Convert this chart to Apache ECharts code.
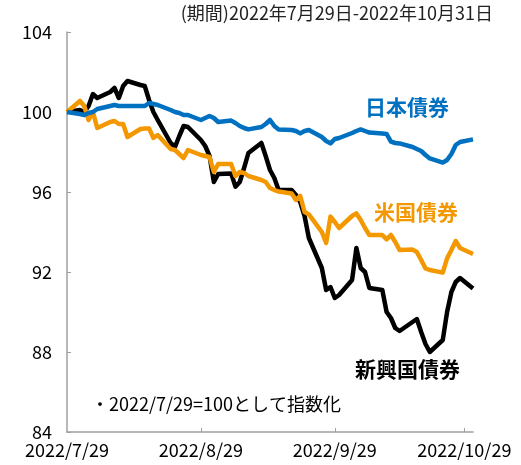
<!DOCTYPE html>
<html><head><meta charset="utf-8">
<script src="https://cdn.jsdelivr.net/npm/echarts@6/dist/echarts.min.js"></script>
<style>html,body{margin:0;padding:0;background:#fff}#c{width:521px;height:465px}</style>
</head><body><div id="c"></div>
<script>
const FONT = '"Noto Sans CJK JP", "Noto Sans", sans-serif';
const calendarStart = [2022, 7, 29];
const calendarEnd = [2022, 10, 31];
const tickLabels = ['2022/7/29', '2022/8/29', '2022/9/29', '2022/10/29'];
const yTicks = { min: 84, max: 104, interval: 4 };

const tradeDates = [
  '2022/7/29',
  '2022/8/1','2022/8/2','2022/8/3','2022/8/4','2022/8/5',
  '2022/8/8','2022/8/9','2022/8/10','2022/8/11','2022/8/12',
  '2022/8/15','2022/8/16','2022/8/17','2022/8/18','2022/8/19',
  '2022/8/22','2022/8/23','2022/8/24','2022/8/25','2022/8/26',
  '2022/8/29','2022/8/30','2022/8/31','2022/9/1','2022/9/2',
  '2022/9/5','2022/9/6','2022/9/7','2022/9/8','2022/9/9',
  '2022/9/12','2022/9/13','2022/9/14','2022/9/15','2022/9/16',
  '2022/9/19','2022/9/20','2022/9/21','2022/9/22','2022/9/23',
  '2022/9/26','2022/9/27','2022/9/28','2022/9/29','2022/9/30',
  '2022/10/3','2022/10/4','2022/10/5','2022/10/6','2022/10/7',
  '2022/10/10','2022/10/11','2022/10/12','2022/10/13','2022/10/14',
  '2022/10/17','2022/10/18','2022/10/19','2022/10/20','2022/10/21',
  '2022/10/24','2022/10/25','2022/10/26','2022/10/27','2022/10/28',
  '2022/10/31'
];

const japanBonds = [
  100.0,
  99.9, 99.85, 99.95, 100.0, 100.15,
  100.3, 100.35, 100.3, 100.3, 100.3,
  100.3, 100.3, 100.45, 100.4, 100.35,
  100.1, 100.0, 99.95, 99.85, 99.85,
  99.6, 99.7, 99.8, 99.7, 99.5,
  99.57, 99.45, 99.3, 99.2, 99.13,
  99.25, 99.4, 99.6, 99.3, 99.13,
  99.1, 99.05, 98.93, 99.05, 99.1,
  98.75, 98.55, 98.43, 98.65, 98.7,
  98.95, 99.05, 99.13, 99.05, 98.97,
  98.93, 98.9, 98.52, 98.45, 98.43,
  98.25, 98.15, 98.05, 97.85, 97.68,
  97.47, 97.6, 97.9, 98.35, 98.5,
  98.63
];

const usBonds = [
  100.0,
  100.55, 100.3, 99.6, 100.0, 99.2,
  99.5, 99.55, 99.4, 99.4, 98.75,
  99.15, 99.18, 99.18, 98.7, 98.85,
  98.15, 98.1, 97.9, 97.7, 98.1,
  97.85, 97.8, 97.75, 97.0, 97.4,
  97.4, 96.8, 97.0, 96.95, 96.8,
  96.6, 96.5, 96.2, 96.1, 96.02,
  95.93, 95.6, 95.8, 95.0, 94.88,
  94.0, 93.45, 94.77, 94.5, 94.2,
  94.8, 94.93, 94.6, 94.2, 93.85,
  93.85, 93.63, 93.85, 93.5, 93.1,
  93.12, 93.0, 92.6, 92.18, 92.1,
  91.97, 92.68, 93.1, 93.55, 93.2,
  92.9
];

const emBonds = [
  100.0,
  100.1, 100.0, 100.3, 100.9, 100.7,
  101.0, 101.2, 100.7, 101.3, 101.55,
  101.35, 101.3, 100.6, 100.0, 99.6,
  98.45, 98.25, 98.8, 99.3, 99.25,
  98.6, 98.3, 97.8, 96.5, 96.9,
  96.93, 96.27, 96.5, 97.2, 97.95,
  98.45, 97.8, 97.1, 96.7, 96.1,
  96.1, 95.85, 95.5, 94.8, 93.7,
  92.2, 91.1, 91.25, 90.7, 90.85,
  91.6, 93.2, 92.2, 92.0, 91.2,
  91.1, 90.0, 89.7, 89.2, 89.05,
  89.5, 89.65, 89.0, 88.4, 88.0,
  88.6, 90.0, 91.0, 91.5, 91.7,
  91.18
];

const seriesNames = ['新興国債券', '米国債券', '日本債券'];
const seriesColors = ['#000000', '#F39800', '#0070C0'];
const titleText = '(期間)2022年7月29日-2022年10月31日';
const noteText = '・2022/7/29=100として指数化';

// build calendar category list
const calendar = [];
{
  let d = Date.UTC(calendarStart[0], calendarStart[1] - 1, calendarStart[2]);
  const e = Date.UTC(calendarEnd[0], calendarEnd[1] - 1, calendarEnd[2]);
  while (d <= e) {
    const dt = new Date(d);
    calendar.push(dt.getUTCFullYear() + '/' + (dt.getUTCMonth() + 1) + '/' + dt.getUTCDate());
    d += 86400000;
  }
}
function toCalendar(vals) {
  const map = {};
  tradeDates.forEach((t, i) => { map[t] = vals[i]; });
  return calendar.map(c => (c in map ? map[c] : null));
}
const allSeries = [emBonds, usBonds, japanBonds];

const chart = echarts.init(document.getElementById('c'), null, { renderer: 'canvas' });
chart.setOption({
  animation: false,
  backgroundColor: '#ffffff',
  grid: { left: 67, right: 48, top: 32, bottom: 33, containLabel: false },
  xAxis: {
    type: 'category',
    data: calendar,
    boundaryGap: false,
    axisLine: { lineStyle: { color: '#a0a0a0', width: 1.5 } },
    axisTick: {
      inside: true, length: 4,
      interval: (i, v) => tickLabels.indexOf(v) > 0,
      lineStyle: { color: '#a0a0a0', width: 1 }
    },
    axisLabel: {
      interval: (i, v) => tickLabels.indexOf(v) >= 0,
      color: '#000', fontSize: 18, fontFamily: FONT, margin: 9
    },
    splitLine: { show: false }
  },
  yAxis: {
    type: 'value',
    min: yTicks.min, max: yTicks.max, interval: yTicks.interval,
    axisLine: { show: true, lineStyle: { color: '#a0a0a0', width: 1.5 } },
    axisTick: { show: true, inside: true, length: 4, lineStyle: { color: '#a0a0a0' } },
    axisLabel: { color: '#000', fontSize: 18, fontFamily: FONT, margin: 15 },
    splitLine: { show: false }
  },
  series: allSeries.map((vals, i) => ({
    name: seriesNames[i],
    type: 'line',
    data: toCalendar(vals),
    connectNulls: true,
    showSymbol: false,
    symbol: 'none',
    lineStyle: { color: seriesColors[i], width: 4.5, join: 'round' },
    z: 2 + i
  })),
  graphic: [
    { type: 'text', right: 28, top: 4, style: { text: titleText, fill: '#222', font: '18px ' + FONT } },
    { type: 'text', left: 365, top: 97, style: { text: seriesNames[2], fill: seriesColors[2], font: 'bold 21px ' + FONT } },
    { type: 'text', left: 374, top: 202, style: { text: seriesNames[1], fill: seriesColors[1], font: 'bold 21px ' + FONT } },
    { type: 'text', left: 355, top: 359, style: { text: seriesNames[0], fill: seriesColors[0], font: 'bold 21px ' + FONT } },
    { type: 'text', left: 91, top: 395, style: { text: noteText, fill: '#000', font: '18px ' + FONT } }
  ]
});
</script>
</body></html>
